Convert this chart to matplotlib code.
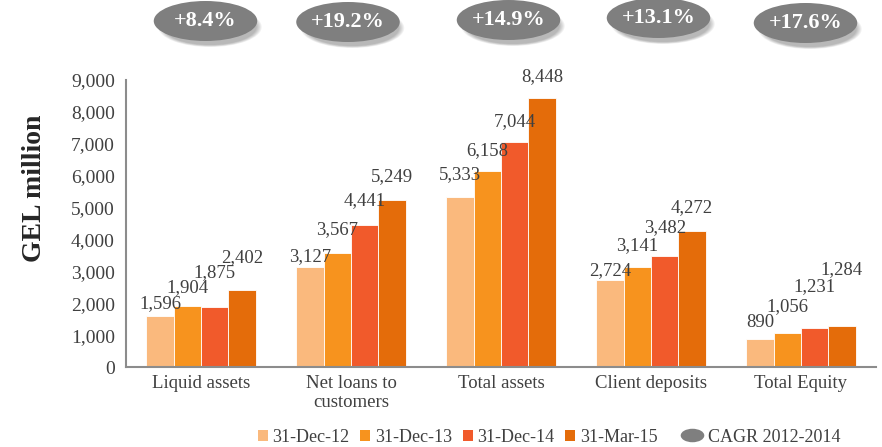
import numpy as np
import matplotlib.pyplot as plt
from matplotlib.patches import Ellipse, Patch
from matplotlib.lines import Line2D
from matplotlib.path import Path
from matplotlib.transforms import Affine2D, blended_transform_factory

plt.rcParams['font.family'] = ['Liberation Serif', 'DejaVu Serif']

categories = ['Liquid assets', 'Net loans to\ncustomers', 'Total assets',
              'Client deposits', 'Total Equity']
periods = ['31-Dec-12', '31-Dec-13', '31-Dec-14', '31-Mar-15']
values = [
    [1596, 3127, 5333, 2724, 890],
    [1904, 3567, 6158, 3141, 1056],
    [1875, 4441, 7044, 3482, 1231],
    [2402, 5249, 8448, 4272, 1284],
]
cagr = ['+8.4%', '+19.2%', '+14.9%', '+13.1%', '+17.6%']

colors = ['#FAB97D', '#F7931E', '#F15A2B', '#E46C0A']

# vertical label offsets (pixels above bar top), staggered where labels crowd
label_off = [
    [13, 11, 22, 10, 16],
    [19, 24, 20, 21, 27],
    [35, 25, 21, 28, 41],
    [33, 23, 21, 23, 56],
]
# bubble placement: x shift in category units, y centre in figure pixels
bubble_dx = [0.03, -0.02, 0.05, 0.05, 0.03]
bubble_y = [21, 22, 20, 18, 23]

W, H = 882, 447
fig = plt.figure(figsize=(W / 100, H / 100), dpi=100)
ax = fig.add_axes([126 / W, 1 - 367 / H, 750 / W, 287 / H])

x = np.arange(len(categories))
w = 0.182
for j, (per, vals) in enumerate(zip(periods, values)):
    xs = x + (j - 1.5) * w
    ax.bar(xs, vals, w, color=colors[j], edgecolor='white', linewidth=0.6, label=per)
    for xi, v, off in zip(xs, vals, label_off[j]):
        ax.annotate(f'{v:,}', (xi, v), xytext=(0, off), textcoords='offset pixels',
                    ha='center', va='center', fontsize=13.5, color='#404040')

ax.set_xlim(-0.5, len(categories) - 0.5)
ax.set_ylim(0, 9000)
ax.set_yticks(np.arange(0, 9001, 1000))
ax.set_yticklabels([f'{t:,}' for t in range(0, 9001, 1000)], fontsize=14, color='#404040')
ax.set_xticks(x)
ax.set_xticklabels(categories, fontsize=13.5, color='#404040', va='top', linespacing=1.15)
ax.tick_params(length=0, pad=6)
ax.tick_params(axis='y', pad=8)
for s in ['top', 'right']:
    ax.spines[s].set_visible(False)
for s in ['left', 'bottom']:
    ax.spines[s].set_color('#8c8c8c')
    ax.spines[s].set_linewidth(1.5)
ax.set_ylabel('GEL million', fontsize=20, fontweight='bold', color='#262626')
ax.yaxis.set_label_coords(-0.105, 0.624)

# CAGR bubbles above the groups, with a soft drop shadow
tr = blended_transform_factory(ax.transData, fig.transFigure)
bw, bh = 0.69, 40 / H
for i, txt in enumerate(cagr):
    cx = x[i] + bubble_dx[i]
    cy = 1 - bubble_y[i] / H
    for k in range(6):
        grow = 1.0 - k * 0.02
        sh = Ellipse((cx + 0.03, cy - 6 / H), bw * grow, bh * grow, transform=tr,
                     facecolor='#000000', alpha=0.05, edgecolor='none', clip_on=False)
        fig.add_artist(sh)
    e = Ellipse((cx, cy), bw, bh, transform=tr, facecolor='#7f7f7f',
                edgecolor='none', clip_on=False)
    fig.add_artist(e)
    t = fig.text(0, 0, txt, transform=tr, fontsize=16, fontweight='bold', color='white',
                 ha='center', va='center')
    t.set_position((cx, cy))

# legend: period swatches, then the CAGR bubble key
leg_y = 1 - 437 / H
handles = [Patch(facecolor=c, edgecolor='none') for c in colors]
leg1 = fig.legend(handles, periods, loc='center left', bbox_to_anchor=(258 / W, leg_y),
                  ncol=4, frameon=False, fontsize=13, borderpad=0, borderaxespad=0,
                  handlelength=0.55, handleheight=0.55, handletextpad=0.25,
                  columnspacing=0.6, labelcolor='#404040')

oval = Path.unit_circle().transformed(Affine2D().scale(1.4, 0.8))
bubble_key = Line2D([], [], linestyle='none', marker=oval, markersize=17,
                    markerfacecolor='#7f7f7f', markeredgecolor='none')
fig.legend([bubble_key], ['CAGR 2012-2014'], loc='center left',
           bbox_to_anchor=(679 / W, leg_y), frameon=False, fontsize=13, borderpad=0,
           borderaxespad=0, handlelength=1.4, handletextpad=0.2, labelcolor='#404040')

fig.savefig('out.png', dpi=100)
